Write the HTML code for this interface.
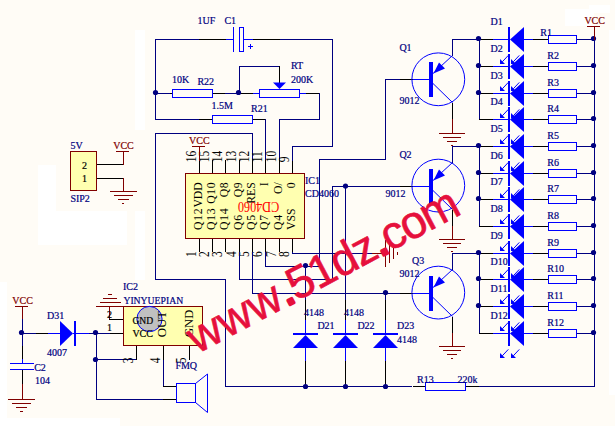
<!DOCTYPE html>
<html><head><meta charset="utf-8"><title>schematic</title>
<style>
html,body{margin:0;padding:0;background:#fffcf6;}
svg{display:block;font-family:"Liberation Serif",serif;}
</style></head>
<body>
<svg width="615" height="426" viewBox="0 0 615 426">
<rect width="615" height="426" fill="#fffcf6"/>
<rect x="135" y="30" width="10" height="100" fill="#ffffff"/>
<rect x="38" y="165" width="18" height="46" fill="#ffffff"/>
<rect x="38" y="211" width="89" height="34" fill="#ffffff"/>
<rect x="135" y="211" width="10" height="69" fill="#ffffff"/>
<rect x="0" y="282" width="7" height="144" fill="#ffffff"/>
<rect x="0" y="418" width="120" height="8" fill="#ffffff"/>
<rect x="609" y="30" width="6" height="365" fill="#ffffff"/>
<rect x="565" y="9" width="29" height="17" fill="#ffffff"/>
<rect x="589" y="5" width="21" height="8" fill="#ffffff"/>
<rect x="155" y="39" width="44" height="1" fill="#000080"/>
<rect x="199" y="39" width="27" height="1" fill="#000000"/>
<rect x="226" y="39" width="8" height="1" fill="#0000ff"/>
<rect x="233" y="27" width="1" height="25" fill="#0000ff"/>
<rect x="239.5" y="27.5" width="4" height="24" fill="#fffcf6" stroke="#0000ff" stroke-width="1"/>
<rect x="244" y="39" width="9" height="1" fill="#0000ff"/>
<rect x="253" y="39" width="27" height="1" fill="#000000"/>
<rect x="280" y="39" width="53" height="1" fill="#000080"/>
<rect x="248" y="46" width="5" height="1" fill="#0000ff"/>
<rect x="250" y="44" width="1" height="5" fill="#0000ff"/>
<rect x="155" y="39" width="1" height="81" fill="#000080"/>
<rect x="332" y="39" width="1" height="108" fill="#000080"/>
<rect x="292" y="146" width="41" height="1" fill="#000080"/>
<rect x="155" y="93" width="15" height="1" fill="#000080"/>
<rect x="170" y="93" width="2" height="1" fill="#000000"/>
<rect x="172.5" y="89.5" width="40" height="8" fill="#fffcf6" stroke="#0000ff" stroke-width="1"/>
<rect x="213" y="93" width="12" height="1" fill="#000000"/>
<rect x="225" y="93" width="16" height="1" fill="#000080"/>
<circle cx="155.5" cy="92.5" r="2.6" fill="#000080"/>
<circle cx="238.5" cy="92.5" r="2.6" fill="#000080"/>
<rect x="239" y="66" width="1" height="28" fill="#000080"/>
<rect x="239" y="66" width="41" height="1" fill="#000080"/>
<rect x="279" y="66" width="1" height="18" fill="#000000"/>
<polygon points="273,82.5 286,82.5 279.5,89" fill="#0000ff"/>
<rect x="241" y="93" width="12" height="1" fill="#000000"/>
<rect x="253" y="93" width="6" height="1" fill="#0000ff"/>
<rect x="259.5" y="89.5" width="40" height="8" fill="#fffcf6" stroke="#0000ff" stroke-width="1"/>
<rect x="300" y="93" width="6" height="1" fill="#0000ff"/>
<rect x="306" y="93" width="14" height="1" fill="#000000"/>
<rect x="319" y="93" width="1" height="27" fill="#000080"/>
<rect x="279" y="119" width="41" height="1" fill="#000080"/>
<rect x="279" y="119" width="1" height="42" fill="#000080"/>
<rect x="155" y="119" width="44" height="1" fill="#000080"/>
<rect x="199" y="119" width="13" height="1" fill="#000000"/>
<rect x="212.5" y="115.5" width="40" height="8" fill="#fffcf6" stroke="#0000ff" stroke-width="1"/>
<rect x="253" y="119" width="13" height="1" fill="#000000"/>
<rect x="265" y="119" width="1" height="42" fill="#000080"/>
<text x="197.6" y="24" fill="#000080" stroke="#000080" stroke-width="0.2" font-size="10" >1UF</text>
<text x="224.4" y="24" fill="#000080" stroke="#000080" stroke-width="0.2" font-size="10" >C1</text>
<text x="172" y="82.6" fill="#000080" stroke="#000080" stroke-width="0.2" font-size="10" >10K</text>
<text x="197.4" y="85" fill="#000080" stroke="#000080" stroke-width="0.2" font-size="10" >R22</text>
<text x="291" y="69" fill="#000080" stroke="#000080" stroke-width="0.2" font-size="10" >RT</text>
<text x="291" y="83" fill="#000080" stroke="#000080" stroke-width="0.2" font-size="10" >200K</text>
<text x="211.6" y="109" fill="#000080" stroke="#000080" stroke-width="0.2" font-size="10" >1.5M</text>
<text x="251" y="111.6" fill="#000080" stroke="#000080" stroke-width="0.2" font-size="10" >R21</text>
<rect x="155" y="133" width="98" height="1" fill="#000080"/>
<rect x="252" y="133" width="1" height="28" fill="#000080"/>
<rect x="155" y="133" width="1" height="147" fill="#000080"/>
<rect x="155" y="279" width="71" height="1" fill="#000080"/>
<rect x="225" y="279" width="1" height="108" fill="#000080"/>
<rect x="225" y="386" width="187" height="1" fill="#000080"/>
<rect x="413" y="386" width="12" height="1" fill="#000000"/>
<rect x="425.5" y="382.5" width="40" height="8" fill="#fffcf6" stroke="#0000ff" stroke-width="1"/>
<rect x="466" y="386" width="13" height="1" fill="#000000"/>
<rect x="479" y="386" width="116" height="1" fill="#000080"/>
<rect x="594" y="39" width="1" height="348" fill="#000080"/>
<rect x="185.5" y="173.5" width="119" height="65" fill="#ffffb0" stroke="#800000" stroke-width="1"/>
<rect x="199" y="160" width="1" height="13" fill="#000000"/>
<rect x="199" y="239" width="1" height="13" fill="#000000"/>
<rect x="212" y="160" width="1" height="13" fill="#000000"/>
<rect x="212" y="239" width="1" height="13" fill="#000000"/>
<rect x="225" y="160" width="1" height="13" fill="#000000"/>
<rect x="225" y="239" width="1" height="13" fill="#000000"/>
<rect x="239" y="160" width="1" height="13" fill="#000000"/>
<rect x="239" y="239" width="1" height="13" fill="#000000"/>
<rect x="252" y="160" width="1" height="13" fill="#000000"/>
<rect x="252" y="239" width="1" height="13" fill="#000000"/>
<rect x="265" y="160" width="1" height="13" fill="#000000"/>
<rect x="265" y="239" width="1" height="13" fill="#000000"/>
<rect x="279" y="160" width="1" height="13" fill="#000000"/>
<rect x="279" y="239" width="1" height="13" fill="#000000"/>
<rect x="292" y="160" width="1" height="13" fill="#000000"/>
<rect x="292" y="239" width="1" height="13" fill="#000000"/>
<text transform="translate(202.0,182.3) rotate(-90) scale(1,1.08)" fill="#000000" font-size="11.7" text-anchor="end">VDD</text>
<text transform="translate(202.0,230) rotate(-90) scale(1,1.08)" fill="#000000" font-size="11.7" text-anchor="start" letter-spacing="0.7">Q12</text>
<text transform="translate(196,162.3) rotate(-90) scale(1,1.18)" fill="#000000" font-size="11.5" text-anchor="start">16</text>
<text transform="translate(196,257) rotate(-90) scale(1,1.18)" fill="#000000" font-size="11.5" text-anchor="start">1</text>
<text transform="translate(215.0,181.60000000000002) rotate(-90) scale(1,1.08)" fill="#000000" font-size="11.7" text-anchor="end" letter-spacing="0.7">Q10</text>
<text transform="translate(215.0,230) rotate(-90) scale(1,1.08)" fill="#000000" font-size="11.7" text-anchor="start" letter-spacing="0.7">Q13</text>
<text transform="translate(209,162.3) rotate(-90) scale(1,1.18)" fill="#000000" font-size="11.5" text-anchor="start">15</text>
<text transform="translate(209,257) rotate(-90) scale(1,1.18)" fill="#000000" font-size="11.5" text-anchor="start">2</text>
<text transform="translate(228.0,181.60000000000002) rotate(-90) scale(1,1.08)" fill="#000000" font-size="11.7" text-anchor="end" letter-spacing="0.7">Q8</text>
<text transform="translate(228.0,230) rotate(-90) scale(1,1.08)" fill="#000000" font-size="11.7" text-anchor="start" letter-spacing="0.7">Q14</text>
<text transform="translate(222,162.3) rotate(-90) scale(1,1.18)" fill="#000000" font-size="11.5" text-anchor="start">14</text>
<text transform="translate(222,257) rotate(-90) scale(1,1.18)" fill="#000000" font-size="11.5" text-anchor="start">3</text>
<text transform="translate(242.0,181.60000000000002) rotate(-90) scale(1,1.08)" fill="#000000" font-size="11.7" text-anchor="end" letter-spacing="0.7">Q9</text>
<text transform="translate(242.0,230) rotate(-90) scale(1,1.08)" fill="#000000" font-size="11.7" text-anchor="start" letter-spacing="0.7">Q6</text>
<text transform="translate(236,162.3) rotate(-90) scale(1,1.18)" fill="#000000" font-size="11.5" text-anchor="start">13</text>
<text transform="translate(236,257) rotate(-90) scale(1,1.18)" fill="#000000" font-size="11.5" text-anchor="start">4</text>
<text transform="translate(255.0,182.3) rotate(-90) scale(1,1.08)" fill="#000000" font-size="11.7" text-anchor="end">RES</text>
<text transform="translate(255.0,230) rotate(-90) scale(1,1.08)" fill="#000000" font-size="11.7" text-anchor="start" letter-spacing="0.7">Q5</text>
<text transform="translate(249,162.3) rotate(-90) scale(1,1.18)" fill="#000000" font-size="11.5" text-anchor="start">12</text>
<text transform="translate(249,257) rotate(-90) scale(1,1.18)" fill="#000000" font-size="11.5" text-anchor="start">5</text>
<text transform="translate(268.0,182.3) rotate(-90) scale(1,1.08)" fill="#000000" font-size="11.7" text-anchor="end">I</text>
<text transform="translate(268.0,230) rotate(-90) scale(1,1.08)" fill="#000000" font-size="11.7" text-anchor="start" letter-spacing="0.7">Q7</text>
<text transform="translate(262,162.3) rotate(-90) scale(1,1.18)" fill="#000000" font-size="11.5" text-anchor="start">11</text>
<text transform="translate(262,257) rotate(-90) scale(1,1.18)" fill="#000000" font-size="11.5" text-anchor="start">6</text>
<text transform="translate(282.0,182.3) rotate(-90) scale(1,1.08)" fill="#000000" font-size="11.7" text-anchor="end">O/</text>
<text transform="translate(282.0,230) rotate(-90) scale(1,1.08)" fill="#000000" font-size="11.7" text-anchor="start" letter-spacing="0.7">Q4</text>
<text transform="translate(276,162.3) rotate(-90) scale(1,1.18)" fill="#000000" font-size="11.5" text-anchor="start">10</text>
<text transform="translate(276,257) rotate(-90) scale(1,1.18)" fill="#000000" font-size="11.5" text-anchor="start">7</text>
<text transform="translate(295.0,182.3) rotate(-90) scale(1,1.08)" fill="#000000" font-size="11.7" text-anchor="end">0</text>
<text transform="translate(295.0,230) rotate(-90) scale(1,1.08)" fill="#000000" font-size="11.7" text-anchor="start">VSS</text>
<text transform="translate(289,162.3) rotate(-90) scale(1,1.18)" fill="#000000" font-size="11.5" text-anchor="start">9</text>
<text transform="translate(289,257) rotate(-90) scale(1,1.18)" fill="#000000" font-size="11.5" text-anchor="start">8</text>
<text transform="translate(279.2,201.8) rotate(180) scale(1,1.14)" fill="#ff0000" font-size="12.2">CD4060</text>
<text x="305" y="184" fill="#000080" stroke="#000080" stroke-width="0.2" font-size="10" >IC1</text>
<text x="305" y="196.6" fill="#000080" stroke="#000080" stroke-width="0.2" font-size="10" >CD4060</text>
<text x="189" y="144" fill="#800000" stroke="#800000" stroke-width="0.2" font-size="10" >VCC</text>
<rect x="192" y="146" width="13" height="1" fill="#800000"/>
<rect x="199" y="146" width="1" height="15" fill="#800000"/>
<rect x="292" y="146" width="1" height="15" fill="#000080"/>
<rect x="239" y="252" width="1" height="28" fill="#000080"/>
<rect x="239" y="279" width="94" height="1" fill="#000080"/>
<rect x="332" y="186" width="1" height="94" fill="#000080"/>
<rect x="332" y="186" width="68" height="1" fill="#000080"/>
<rect x="400" y="186" width="13" height="1" fill="#000000"/>
<rect x="252" y="252" width="1" height="42" fill="#000080"/>
<rect x="252" y="293" width="148" height="1" fill="#000080"/>
<rect x="400" y="293" width="13" height="1" fill="#000000"/>
<rect x="265" y="252" width="1" height="15" fill="#000080"/>
<rect x="265" y="266" width="55" height="1" fill="#000080"/>
<rect x="319" y="159" width="1" height="108" fill="#000080"/>
<rect x="319" y="159" width="67" height="1" fill="#000080"/>
<rect x="385" y="79" width="1" height="81" fill="#000080"/>
<rect x="385" y="79" width="15" height="1" fill="#000080"/>
<rect x="400" y="79" width="13" height="1" fill="#000000"/>
<rect x="292" y="252" width="1" height="2" fill="#000080"/>
<rect x="292" y="253" width="80" height="1" fill="#000080"/>
<rect x="372" y="253" width="14" height="1" fill="#800000"/>
<rect x="385" y="240" width="1" height="27" fill="#800000"/>
<rect x="389" y="244" width="1" height="19" fill="#800000"/>
<rect x="393" y="248" width="1" height="11" fill="#800000"/>
<rect x="397" y="252" width="1" height="3" fill="#800000"/>
<circle cx="305.5" cy="265.5" r="2.6" fill="#000080"/>
<circle cx="345.5" cy="186.0" r="2.6" fill="#000080"/>
<circle cx="385.5" cy="292.5" r="2.6" fill="#000080"/>
<rect x="305" y="266" width="1" height="54" fill="#000080"/>
<rect x="305" y="300" width="1" height="20" fill="#000000"/>
<rect x="305" y="320" width="1" height="15" fill="#0000ff"/>
<rect x="293" y="333" width="25" height="2" fill="#0000ff"/>
<polygon points="305.5,335 318,348 293,348" fill="#0000ff"/>
<rect x="305" y="348" width="1" height="13" fill="#0000ff"/>
<rect x="305" y="361" width="1" height="26" fill="#000000"/>
<circle cx="305.5" cy="386.5" r="2.6" fill="#000080"/>
<rect x="345" y="186" width="1" height="134" fill="#000080"/>
<rect x="345" y="300" width="1" height="20" fill="#000000"/>
<rect x="345" y="320" width="1" height="15" fill="#0000ff"/>
<rect x="333" y="333" width="25" height="2" fill="#0000ff"/>
<polygon points="345.5,335 358,348 333,348" fill="#0000ff"/>
<rect x="345" y="348" width="1" height="13" fill="#0000ff"/>
<rect x="345" y="361" width="1" height="26" fill="#000000"/>
<circle cx="345.5" cy="386.5" r="2.6" fill="#000080"/>
<rect x="385" y="293" width="1" height="27" fill="#000080"/>
<rect x="385" y="300" width="1" height="20" fill="#000000"/>
<rect x="385" y="320" width="1" height="15" fill="#0000ff"/>
<rect x="373" y="333" width="25" height="2" fill="#0000ff"/>
<polygon points="385.5,335 398,348 373,348" fill="#0000ff"/>
<rect x="385" y="348" width="1" height="13" fill="#0000ff"/>
<rect x="385" y="361" width="1" height="26" fill="#000000"/>
<circle cx="385.5" cy="386.5" r="2.6" fill="#000080"/>
<text x="304" y="315.6" fill="#000080" stroke="#000080" stroke-width="0.2" font-size="10" >4148</text>
<text x="344" y="315.6" fill="#000080" stroke="#000080" stroke-width="0.2" font-size="10" >4148</text>
<text x="317.4" y="328.6" fill="#000080" stroke="#000080" stroke-width="0.2" font-size="10" >D21</text>
<text x="357.4" y="328.6" fill="#000080" stroke="#000080" stroke-width="0.2" font-size="10" >D22</text>
<text x="397" y="328.6" fill="#000080" stroke="#000080" stroke-width="0.2" font-size="10" >D23</text>
<text x="397" y="343" fill="#000080" stroke="#000080" stroke-width="0.2" font-size="10" >4148</text>
<text x="417" y="383" fill="#000080" stroke="#000080" stroke-width="0.2" font-size="10" >R13</text>
<text x="457.4" y="383" fill="#000080" stroke="#000080" stroke-width="0.2" font-size="10" >220k</text>
<circle cx="438.3" cy="79.3" r="26.4" fill="none" stroke="#0000ff" stroke-width="1"/>
<rect x="413" y="79" width="18" height="1" fill="#0000ff"/>
<rect x="429" y="62" width="4" height="35" fill="#0000ff"/>
<line x1="433" y1="73.5" x2="452.5" y2="55.5" stroke="#0000ff" stroke-width="1"/>
<polygon points="433.5,73.5 439,62.5 445,68.5" fill="#0000ff"/>
<line x1="433" y1="83.5" x2="452.5" y2="102.5" stroke="#0000ff" stroke-width="1"/>
<rect x="452" y="39" width="1" height="17" fill="#000080"/>
<rect x="452" y="103" width="1" height="16" fill="#000000"/>
<rect x="452" y="119" width="1" height="15" fill="#800000"/>
<rect x="439" y="133" width="26" height="1" fill="#800000"/>
<rect x="443" y="137" width="18" height="1" fill="#800000"/>
<rect x="447" y="141" width="10" height="1" fill="#800000"/>
<rect x="451" y="145" width="2" height="1" fill="#800000"/>
<circle cx="438.3" cy="185.6" r="26.4" fill="none" stroke="#0000ff" stroke-width="1"/>
<rect x="413" y="186" width="18" height="1" fill="#0000ff"/>
<rect x="429" y="169" width="4" height="35" fill="#0000ff"/>
<line x1="433" y1="180.5" x2="452.5" y2="162.5" stroke="#0000ff" stroke-width="1"/>
<polygon points="433.5,180.5 439,169.5 445,175.5" fill="#0000ff"/>
<line x1="433" y1="190.5" x2="452.5" y2="209.5" stroke="#0000ff" stroke-width="1"/>
<rect x="452" y="146" width="1" height="17" fill="#000080"/>
<rect x="452" y="210" width="1" height="16" fill="#000000"/>
<rect x="452" y="226" width="1" height="14" fill="#800000"/>
<rect x="439" y="239" width="26" height="1" fill="#800000"/>
<rect x="443" y="243" width="18" height="1" fill="#800000"/>
<rect x="447" y="247" width="10" height="1" fill="#800000"/>
<rect x="451" y="251" width="2" height="1" fill="#800000"/>
<circle cx="438.3" cy="292.6" r="26.4" fill="none" stroke="#0000ff" stroke-width="1"/>
<rect x="413" y="293" width="18" height="1" fill="#0000ff"/>
<rect x="429" y="276" width="4" height="35" fill="#0000ff"/>
<line x1="433" y1="287.5" x2="452.5" y2="269.5" stroke="#0000ff" stroke-width="1"/>
<polygon points="433.5,287.5 439,276.5 445,282.5" fill="#0000ff"/>
<line x1="433" y1="297.5" x2="452.5" y2="316.5" stroke="#0000ff" stroke-width="1"/>
<rect x="452" y="253" width="1" height="17" fill="#000080"/>
<rect x="452" y="317" width="1" height="16" fill="#000000"/>
<rect x="452" y="333" width="1" height="14" fill="#800000"/>
<rect x="439" y="346" width="26" height="1" fill="#800000"/>
<rect x="443" y="350" width="18" height="1" fill="#800000"/>
<rect x="447" y="354" width="10" height="1" fill="#800000"/>
<rect x="451" y="358" width="2" height="1" fill="#800000"/>
<rect x="452" y="39" width="28" height="1" fill="#000080"/>
<rect x="452" y="146" width="28" height="1" fill="#000080"/>
<rect x="452" y="253" width="28" height="1" fill="#000080"/>
<text x="399.4" y="51" fill="#000080" stroke="#000080" stroke-width="0.2" font-size="10" >Q1</text>
<text x="399.4" y="103.6" fill="#000080" stroke="#000080" stroke-width="0.2" font-size="10" >9012</text>
<text x="399.4" y="157.6" fill="#000080" stroke="#000080" stroke-width="0.2" font-size="10" >Q2</text>
<text x="385.4" y="196.6" fill="#000080" stroke="#000080" stroke-width="0.2" font-size="10" >9012</text>
<text x="412" y="264" fill="#000080" stroke="#000080" stroke-width="0.2" font-size="10" >Q3</text>
<text x="399.4" y="277" fill="#000080" stroke="#000080" stroke-width="0.2" font-size="10" >9012</text>
<rect x="479" y="39" width="1" height="81" fill="#000080"/>
<rect x="479" y="146" width="1" height="81" fill="#000080"/>
<rect x="479" y="253" width="1" height="81" fill="#000080"/>
<rect x="479" y="39" width="14" height="1" fill="#000000"/>
<rect x="493" y="39" width="17" height="1" fill="#0000ff"/>
<rect x="524" y="39" width="9" height="1" fill="#0000ff"/>
<rect x="533" y="39" width="15" height="1" fill="#000000"/>
<rect x="548.5" y="35.5" width="28" height="8" fill="#fffcf6" stroke="#0000ff" stroke-width="1"/>
<rect x="577" y="39" width="18" height="1" fill="#000080"/>
<circle cx="593.5" cy="38.5" r="2.6" fill="#000080"/>
<circle cx="478.5" cy="38.5" r="2.6" fill="#000080"/>
<rect x="479" y="66" width="14" height="1" fill="#000000"/>
<rect x="493" y="66" width="17" height="1" fill="#0000ff"/>
<rect x="524" y="66" width="9" height="1" fill="#0000ff"/>
<rect x="533" y="66" width="15" height="1" fill="#000000"/>
<rect x="548.5" y="62.5" width="28" height="8" fill="#fffcf6" stroke="#0000ff" stroke-width="1"/>
<rect x="577" y="66" width="18" height="1" fill="#000080"/>
<circle cx="593.5" cy="65.5" r="2.6" fill="#000080"/>
<circle cx="478.5" cy="65.5" r="2.6" fill="#000080"/>
<rect x="479" y="93" width="14" height="1" fill="#000000"/>
<rect x="493" y="93" width="17" height="1" fill="#0000ff"/>
<rect x="524" y="93" width="9" height="1" fill="#0000ff"/>
<rect x="533" y="93" width="15" height="1" fill="#000000"/>
<rect x="548.5" y="89.5" width="28" height="8" fill="#fffcf6" stroke="#0000ff" stroke-width="1"/>
<rect x="577" y="93" width="18" height="1" fill="#000080"/>
<circle cx="593.5" cy="92.5" r="2.6" fill="#000080"/>
<circle cx="478.5" cy="92.5" r="2.6" fill="#000080"/>
<rect x="479" y="119" width="14" height="1" fill="#000000"/>
<rect x="493" y="119" width="17" height="1" fill="#0000ff"/>
<rect x="524" y="119" width="9" height="1" fill="#0000ff"/>
<rect x="533" y="119" width="15" height="1" fill="#000000"/>
<rect x="548.5" y="115.5" width="28" height="8" fill="#fffcf6" stroke="#0000ff" stroke-width="1"/>
<rect x="577" y="119" width="18" height="1" fill="#000080"/>
<circle cx="593.5" cy="118.5" r="2.6" fill="#000080"/>
<rect x="479" y="146" width="14" height="1" fill="#000000"/>
<rect x="493" y="146" width="17" height="1" fill="#0000ff"/>
<rect x="524" y="146" width="9" height="1" fill="#0000ff"/>
<rect x="533" y="146" width="15" height="1" fill="#000000"/>
<rect x="548.5" y="142.5" width="28" height="8" fill="#fffcf6" stroke="#0000ff" stroke-width="1"/>
<rect x="577" y="146" width="18" height="1" fill="#000080"/>
<circle cx="593.5" cy="145.5" r="2.6" fill="#000080"/>
<circle cx="478.5" cy="145.5" r="2.6" fill="#000080"/>
<rect x="479" y="173" width="14" height="1" fill="#000000"/>
<rect x="493" y="173" width="17" height="1" fill="#0000ff"/>
<rect x="524" y="173" width="9" height="1" fill="#0000ff"/>
<rect x="533" y="173" width="15" height="1" fill="#000000"/>
<rect x="548.5" y="169.5" width="28" height="8" fill="#fffcf6" stroke="#0000ff" stroke-width="1"/>
<rect x="577" y="173" width="18" height="1" fill="#000080"/>
<circle cx="593.5" cy="172.5" r="2.6" fill="#000080"/>
<circle cx="478.5" cy="172.5" r="2.6" fill="#000080"/>
<rect x="479" y="199" width="14" height="1" fill="#000000"/>
<rect x="493" y="199" width="17" height="1" fill="#0000ff"/>
<rect x="524" y="199" width="9" height="1" fill="#0000ff"/>
<rect x="533" y="199" width="15" height="1" fill="#000000"/>
<rect x="548.5" y="195.5" width="28" height="8" fill="#fffcf6" stroke="#0000ff" stroke-width="1"/>
<rect x="577" y="199" width="18" height="1" fill="#000080"/>
<circle cx="593.5" cy="198.5" r="2.6" fill="#000080"/>
<circle cx="478.5" cy="198.5" r="2.6" fill="#000080"/>
<rect x="479" y="226" width="14" height="1" fill="#000000"/>
<rect x="493" y="226" width="17" height="1" fill="#0000ff"/>
<rect x="524" y="226" width="9" height="1" fill="#0000ff"/>
<rect x="533" y="226" width="15" height="1" fill="#000000"/>
<rect x="548.5" y="222.5" width="28" height="8" fill="#fffcf6" stroke="#0000ff" stroke-width="1"/>
<rect x="577" y="226" width="18" height="1" fill="#000080"/>
<circle cx="593.5" cy="225.5" r="2.6" fill="#000080"/>
<rect x="479" y="253" width="14" height="1" fill="#000000"/>
<rect x="493" y="253" width="17" height="1" fill="#0000ff"/>
<rect x="524" y="253" width="9" height="1" fill="#0000ff"/>
<rect x="533" y="253" width="15" height="1" fill="#000000"/>
<rect x="548.5" y="249.5" width="28" height="8" fill="#fffcf6" stroke="#0000ff" stroke-width="1"/>
<rect x="577" y="253" width="18" height="1" fill="#000080"/>
<circle cx="593.5" cy="252.5" r="2.6" fill="#000080"/>
<circle cx="478.5" cy="252.5" r="2.6" fill="#000080"/>
<rect x="479" y="279" width="14" height="1" fill="#000000"/>
<rect x="493" y="279" width="17" height="1" fill="#0000ff"/>
<rect x="524" y="279" width="9" height="1" fill="#0000ff"/>
<rect x="533" y="279" width="15" height="1" fill="#000000"/>
<rect x="548.5" y="275.5" width="28" height="8" fill="#fffcf6" stroke="#0000ff" stroke-width="1"/>
<rect x="577" y="279" width="18" height="1" fill="#000080"/>
<circle cx="593.5" cy="278.5" r="2.6" fill="#000080"/>
<circle cx="478.5" cy="278.5" r="2.6" fill="#000080"/>
<rect x="479" y="306" width="14" height="1" fill="#000000"/>
<rect x="493" y="306" width="17" height="1" fill="#0000ff"/>
<rect x="524" y="306" width="9" height="1" fill="#0000ff"/>
<rect x="533" y="306" width="15" height="1" fill="#000000"/>
<rect x="548.5" y="302.5" width="28" height="8" fill="#fffcf6" stroke="#0000ff" stroke-width="1"/>
<rect x="577" y="306" width="18" height="1" fill="#000080"/>
<circle cx="593.5" cy="305.5" r="2.6" fill="#000080"/>
<circle cx="478.5" cy="305.5" r="2.6" fill="#000080"/>
<rect x="479" y="333" width="14" height="1" fill="#000000"/>
<rect x="493" y="333" width="17" height="1" fill="#0000ff"/>
<rect x="524" y="333" width="9" height="1" fill="#0000ff"/>
<rect x="533" y="333" width="15" height="1" fill="#000000"/>
<rect x="548.5" y="329.5" width="28" height="8" fill="#fffcf6" stroke="#0000ff" stroke-width="1"/>
<rect x="577" y="333" width="18" height="1" fill="#000080"/>
<circle cx="593.5" cy="332.5" r="2.6" fill="#000080"/>
<rect x="508" y="27" width="2" height="25" fill="#0000ff"/>
<polygon points="510,39.5 524,27 524,52" fill="#0000ff"/>
<text x="490.6" y="24.5" fill="#000080" stroke="#000080" stroke-width="0.2" font-size="10" >D1</text>
<text x="540.3" y="35.7" fill="#000080" stroke="#000080" stroke-width="0.2" font-size="10" >R1</text>
<rect x="508" y="54" width="2" height="25" fill="#0000ff"/>
<polygon points="510,66.5 524,54 524,79" fill="#0000ff"/>
<text x="490.6" y="51.5" fill="#000080" stroke="#000080" stroke-width="0.2" font-size="10" >D2</text>
<text x="547.3" y="58.5" fill="#000080" stroke="#000080" stroke-width="0.2" font-size="10" >R2</text>
<rect x="508" y="81" width="2" height="25" fill="#0000ff"/>
<polygon points="510,93.5 524,81 524,106" fill="#0000ff"/>
<text x="490.6" y="78.5" fill="#000080" stroke="#000080" stroke-width="0.2" font-size="10" >D3</text>
<text x="547.3" y="85.5" fill="#000080" stroke="#000080" stroke-width="0.2" font-size="10" >R3</text>
<rect x="508" y="107" width="2" height="25" fill="#0000ff"/>
<polygon points="510,119.5 524,107 524,132" fill="#0000ff"/>
<text x="490.6" y="104.5" fill="#000080" stroke="#000080" stroke-width="0.2" font-size="10" >D4</text>
<text x="547.3" y="111.5" fill="#000080" stroke="#000080" stroke-width="0.2" font-size="10" >R4</text>
<rect x="508" y="134" width="2" height="25" fill="#0000ff"/>
<polygon points="510,146.5 524,134 524,159" fill="#0000ff"/>
<text x="490.6" y="131.5" fill="#000080" stroke="#000080" stroke-width="0.2" font-size="10" >D5</text>
<text x="547.3" y="138.5" fill="#000080" stroke="#000080" stroke-width="0.2" font-size="10" >R5</text>
<rect x="508" y="161" width="2" height="25" fill="#0000ff"/>
<polygon points="510,173.5 524,161 524,186" fill="#0000ff"/>
<text x="490.6" y="158.5" fill="#000080" stroke="#000080" stroke-width="0.2" font-size="10" >D6</text>
<text x="547.3" y="165.5" fill="#000080" stroke="#000080" stroke-width="0.2" font-size="10" >R6</text>
<rect x="508" y="187" width="2" height="25" fill="#0000ff"/>
<polygon points="510,199.5 524,187 524,212" fill="#0000ff"/>
<text x="490.6" y="184.5" fill="#000080" stroke="#000080" stroke-width="0.2" font-size="10" >D7</text>
<text x="547.3" y="191.5" fill="#000080" stroke="#000080" stroke-width="0.2" font-size="10" >R7</text>
<rect x="508" y="214" width="2" height="25" fill="#0000ff"/>
<polygon points="510,226.5 524,214 524,239" fill="#0000ff"/>
<text x="490.6" y="211.5" fill="#000080" stroke="#000080" stroke-width="0.2" font-size="10" >D8</text>
<text x="547.3" y="218.5" fill="#000080" stroke="#000080" stroke-width="0.2" font-size="10" >R8</text>
<rect x="508" y="241" width="2" height="25" fill="#0000ff"/>
<polygon points="510,253.5 524,241 524,266" fill="#0000ff"/>
<text x="490.6" y="238.5" fill="#000080" stroke="#000080" stroke-width="0.2" font-size="10" >D9</text>
<text x="547.3" y="245.5" fill="#000080" stroke="#000080" stroke-width="0.2" font-size="10" >R9</text>
<rect x="508" y="267" width="2" height="25" fill="#0000ff"/>
<polygon points="510,279.5 524,267 524,292" fill="#0000ff"/>
<text x="490.6" y="264.5" fill="#000080" stroke="#000080" stroke-width="0.2" font-size="10" >D10</text>
<text x="547.3" y="271.5" fill="#000080" stroke="#000080" stroke-width="0.2" font-size="10" >R10</text>
<rect x="508" y="294" width="2" height="25" fill="#0000ff"/>
<polygon points="510,306.5 524,294 524,319" fill="#0000ff"/>
<text x="490.6" y="291.5" fill="#000080" stroke="#000080" stroke-width="0.2" font-size="10" >D11</text>
<text x="547.3" y="298.5" fill="#000080" stroke="#000080" stroke-width="0.2" font-size="10" >R11</text>
<rect x="508" y="321" width="2" height="25" fill="#0000ff"/>
<polygon points="510,333.5 524,321 524,346" fill="#0000ff"/>
<text x="490.6" y="318.5" fill="#000080" stroke="#000080" stroke-width="0.2" font-size="10" >D12</text>
<text x="547.3" y="325.5" fill="#000080" stroke="#000080" stroke-width="0.2" font-size="10" >R12</text>
<line x1="508.3" y1="55.4" x2="502.3" y2="61.8" stroke="#0000ff" stroke-width="1"/>
<polygon points="500,59 500,64 505,64" fill="#0000ff"/>
<line x1="519.3" y1="55.4" x2="513.3" y2="61.8" stroke="#0000ff" stroke-width="1"/>
<polygon points="511,59 511,64 516,64" fill="#0000ff"/>
<line x1="508.3" y1="82.4" x2="502.3" y2="88.8" stroke="#0000ff" stroke-width="1"/>
<polygon points="500,86 500,91 505,91" fill="#0000ff"/>
<line x1="519.3" y1="82.4" x2="513.3" y2="88.8" stroke="#0000ff" stroke-width="1"/>
<polygon points="511,86 511,91 516,91" fill="#0000ff"/>
<line x1="508.3" y1="109.4" x2="502.3" y2="115.8" stroke="#0000ff" stroke-width="1"/>
<polygon points="500,113 500,118 505,118" fill="#0000ff"/>
<line x1="519.3" y1="109.4" x2="513.3" y2="115.8" stroke="#0000ff" stroke-width="1"/>
<polygon points="511,113 511,118 516,118" fill="#0000ff"/>
<line x1="508.3" y1="135.4" x2="502.3" y2="141.8" stroke="#0000ff" stroke-width="1"/>
<polygon points="500,139 500,144 505,144" fill="#0000ff"/>
<line x1="519.3" y1="135.4" x2="513.3" y2="141.8" stroke="#0000ff" stroke-width="1"/>
<polygon points="511,139 511,144 516,144" fill="#0000ff"/>
<line x1="508.3" y1="162.4" x2="502.3" y2="168.8" stroke="#0000ff" stroke-width="1"/>
<polygon points="500,166 500,171 505,171" fill="#0000ff"/>
<line x1="519.3" y1="162.4" x2="513.3" y2="168.8" stroke="#0000ff" stroke-width="1"/>
<polygon points="511,166 511,171 516,171" fill="#0000ff"/>
<line x1="508.3" y1="189.4" x2="502.3" y2="195.8" stroke="#0000ff" stroke-width="1"/>
<polygon points="500,193 500,198 505,198" fill="#0000ff"/>
<line x1="519.3" y1="189.4" x2="513.3" y2="195.8" stroke="#0000ff" stroke-width="1"/>
<polygon points="511,193 511,198 516,198" fill="#0000ff"/>
<line x1="508.3" y1="215.4" x2="502.3" y2="221.8" stroke="#0000ff" stroke-width="1"/>
<polygon points="500,219 500,224 505,224" fill="#0000ff"/>
<line x1="519.3" y1="215.4" x2="513.3" y2="221.8" stroke="#0000ff" stroke-width="1"/>
<polygon points="511,219 511,224 516,224" fill="#0000ff"/>
<line x1="508.3" y1="242.4" x2="502.3" y2="248.8" stroke="#0000ff" stroke-width="1"/>
<polygon points="500,246 500,251 505,251" fill="#0000ff"/>
<line x1="519.3" y1="242.4" x2="513.3" y2="248.8" stroke="#0000ff" stroke-width="1"/>
<polygon points="511,246 511,251 516,251" fill="#0000ff"/>
<line x1="508.3" y1="269.4" x2="502.3" y2="275.8" stroke="#0000ff" stroke-width="1"/>
<polygon points="500,273 500,278 505,278" fill="#0000ff"/>
<line x1="519.3" y1="269.4" x2="513.3" y2="275.8" stroke="#0000ff" stroke-width="1"/>
<polygon points="511,273 511,278 516,278" fill="#0000ff"/>
<line x1="508.3" y1="295.4" x2="502.3" y2="301.8" stroke="#0000ff" stroke-width="1"/>
<polygon points="500,299 500,304 505,304" fill="#0000ff"/>
<line x1="519.3" y1="295.4" x2="513.3" y2="301.8" stroke="#0000ff" stroke-width="1"/>
<polygon points="511,299 511,304 516,304" fill="#0000ff"/>
<line x1="508.3" y1="322.4" x2="502.3" y2="328.8" stroke="#0000ff" stroke-width="1"/>
<polygon points="500,326 500,331 505,331" fill="#0000ff"/>
<line x1="519.3" y1="322.4" x2="513.3" y2="328.8" stroke="#0000ff" stroke-width="1"/>
<polygon points="511,326 511,331 516,331" fill="#0000ff"/>
<line x1="508.3" y1="349.4" x2="502.3" y2="355.8" stroke="#0000ff" stroke-width="1"/>
<polygon points="500,353 500,358 505,358" fill="#0000ff"/>
<line x1="519.3" y1="349.4" x2="513.3" y2="355.8" stroke="#0000ff" stroke-width="1"/>
<polygon points="511,353 511,358 516,358" fill="#0000ff"/>
<text x="584.4" y="24" fill="#800000" stroke="#800000" stroke-width="0.2" font-size="10" >VCC</text>
<rect x="587" y="26" width="13" height="1" fill="#800000"/>
<rect x="594" y="26" width="1" height="14" fill="#800000"/>
<rect x="70.5" y="151.5" width="26" height="39" fill="#ffffb0" stroke="#800000" stroke-width="1"/>
<text x="70.4" y="149" fill="#000080" stroke="#000080" stroke-width="0.2" font-size="10" >5V</text>
<text x="70.4" y="202" fill="#000080" stroke="#000080" stroke-width="0.2" font-size="10" >SIP2</text>
<text x="82" y="169" fill="#000000" stroke="#000000" stroke-width="0.2" font-size="10" >2</text>
<text x="82" y="181.6" fill="#000000" stroke="#000000" stroke-width="0.2" font-size="10" >1</text>
<rect x="97" y="164" width="27" height="1" fill="#000000"/>
<rect x="97" y="178" width="27" height="1" fill="#000000"/>
<text x="113.2" y="149" fill="#800000" stroke="#800000" stroke-width="0.2" font-size="10" >VCC</text>
<rect x="116" y="151" width="13" height="1" fill="#800000"/>
<rect x="123" y="151" width="1" height="14" fill="#800000"/>
<rect x="123" y="178" width="1" height="14" fill="#800000"/>
<rect x="110" y="191" width="27" height="1" fill="#800000"/>
<rect x="114" y="195" width="19" height="1" fill="#800000"/>
<rect x="118" y="199" width="11" height="1" fill="#800000"/>
<rect x="122" y="203" width="2" height="1" fill="#800000"/>
<text x="12.3" y="304" fill="#800000" stroke="#800000" stroke-width="0.2" font-size="10" >VCC</text>
<rect x="15" y="306" width="13" height="1" fill="#800000"/>
<rect x="22" y="306" width="1" height="13" fill="#800000"/>
<rect x="22" y="319" width="1" height="27" fill="#000080"/>
<rect x="22" y="346" width="1" height="13" fill="#000000"/>
<rect x="22" y="359" width="1" height="5" fill="#0000ff"/>
<rect x="10" y="363" width="24" height="1" fill="#0000ff"/>
<rect x="10" y="369" width="24" height="1" fill="#0000ff"/>
<rect x="22" y="370" width="1" height="14" fill="#000000"/>
<rect x="22" y="384" width="1" height="16" fill="#800000"/>
<rect x="8" y="399" width="27" height="1" fill="#800000"/>
<rect x="12" y="403" width="19" height="1" fill="#800000"/>
<rect x="16" y="407" width="11" height="1" fill="#800000"/>
<rect x="20" y="411" width="3" height="1" fill="#800000"/>
<text x="34.2" y="371" fill="#000080" stroke="#000080" stroke-width="0.2" font-size="10" >C2</text>
<text x="35" y="383.7" fill="#000080" stroke="#000080" stroke-width="0.2" font-size="10" >104</text>
<circle cx="21.5" cy="332.5" r="2.6" fill="#000080"/>
<rect x="22" y="333" width="14" height="1" fill="#000080"/>
<rect x="36" y="333" width="12" height="1" fill="#000000"/>
<rect x="48" y="333" width="13" height="1" fill="#0000ff"/>
<polygon points="60,321 73,333.5 60,346" fill="#0000ff"/>
<rect x="74" y="321" width="2" height="25" fill="#0000ff"/>
<rect x="73" y="333" width="16" height="1" fill="#0000ff"/>
<rect x="89" y="333" width="21" height="1" fill="#000080"/>
<rect x="110" y="333" width="13" height="1" fill="#000000"/>
<circle cx="95.5" cy="332.5" r="2.6" fill="#000080"/>
<circle cx="95.5" cy="359.5" r="2.6" fill="#000080"/>
<rect x="96" y="333" width="1" height="67" fill="#000080"/>
<rect x="96" y="359" width="41" height="1" fill="#000080"/>
<rect x="96" y="399" width="67" height="1" fill="#000080"/>
<rect x="163" y="399" width="14" height="1" fill="#000000"/>
<text x="47" y="318.6" fill="#000080" stroke="#000080" stroke-width="0.2" font-size="10" >D31</text>
<text x="47" y="355.6" fill="#000080" stroke="#000080" stroke-width="0.2" font-size="10" >4007</text>
<rect x="123.5" y="306.5" width="79" height="39" fill="#ffffb0" stroke="#800000" stroke-width="1"/>
<circle cx="149.5" cy="319" r="12.6" fill="#c0c0c0" stroke="#0000ff" stroke-width="1"/>
<text x="132.4" y="324" fill="#000000" stroke="#000000" stroke-width="0.2" font-size="9.6" >GND</text>
<text x="132.4" y="337" fill="#000000" stroke="#000000" stroke-width="0.2" font-size="10" >VCC</text>
<text transform="translate(166,337.3) rotate(-90) scale(1,1.03)" fill="#000000" font-size="12.8" text-anchor="start">OUT</text>
<text transform="translate(192.7,337) rotate(-90) scale(1,1.03)" fill="#000000" font-size="12.6" text-anchor="start">GND</text>
<text x="123" y="290.4" fill="#000080" stroke="#000080" stroke-width="0.2" font-size="10" >IC2</text>
<text x="123.4" y="303.6" fill="#000080" stroke="#000080" stroke-width="0.2" font-size="9.7" >YINYUEPIAN</text>
<rect x="108" y="294" width="4" height="1" fill="#800000"/>
<rect x="103" y="298" width="14" height="1" fill="#800000"/>
<rect x="100" y="302" width="21" height="1" fill="#800000"/>
<rect x="96" y="306" width="28" height="1" fill="#800000"/>
<rect x="109" y="306" width="1" height="14" fill="#800000"/>
<rect x="109" y="319" width="14" height="1" fill="#000000"/>
<text x="107" y="317.5" fill="#000000" stroke="#000000" stroke-width="0.2" font-size="10" >2</text>
<text x="107" y="331" fill="#000000" stroke="#000000" stroke-width="0.2" font-size="10" >1</text>
<rect x="136" y="346" width="1" height="14" fill="#000000"/>
<rect x="163" y="346" width="1" height="14" fill="#000000"/>
<rect x="189" y="346" width="1" height="14" fill="#000000"/>
<text transform="translate(133,363.2) rotate(-90) scale(1,1.18)" fill="#000000" font-size="11.5" text-anchor="start">3</text>
<text transform="translate(160,363.2) rotate(-90) scale(1,1.18)" fill="#000000" font-size="11.5" text-anchor="start">4</text>
<text transform="translate(186,363.2) rotate(-90) scale(1,1.18)" fill="#000000" font-size="11.5" text-anchor="start">5</text>
<rect x="163" y="360" width="1" height="27" fill="#000080"/>
<rect x="163" y="386" width="14" height="1" fill="#000000"/>
<text x="175.4" y="368.6" fill="#000080" stroke="#000080" stroke-width="0.2" font-size="10" >FMQ</text>
<rect x="176.5" y="383.5" width="19" height="19" fill="none" stroke="#0000ff" stroke-width="1"/>
<polyline points="195.5,383.5 207.5,374 207.5,412.5 195.5,402.5" fill="none" stroke="#0000ff" stroke-width="1"/>
<text transform="translate(197.0,354.2) rotate(-27.9)" fill="#e6103c" stroke="#e6103c" stroke-width="0.6" stroke-linejoin="round" font-family="'Liberation Sans', sans-serif" font-size="46"><tspan letter-spacing="0.5">www</tspan><tspan letter-spacing="-1.25" stroke-width="3">.</tspan><tspan letter-spacing="-1.25">51dz</tspan><tspan letter-spacing="-2" stroke-width="3">.</tspan><tspan letter-spacing="-2">com</tspan></text>
</svg>
</body></html>
